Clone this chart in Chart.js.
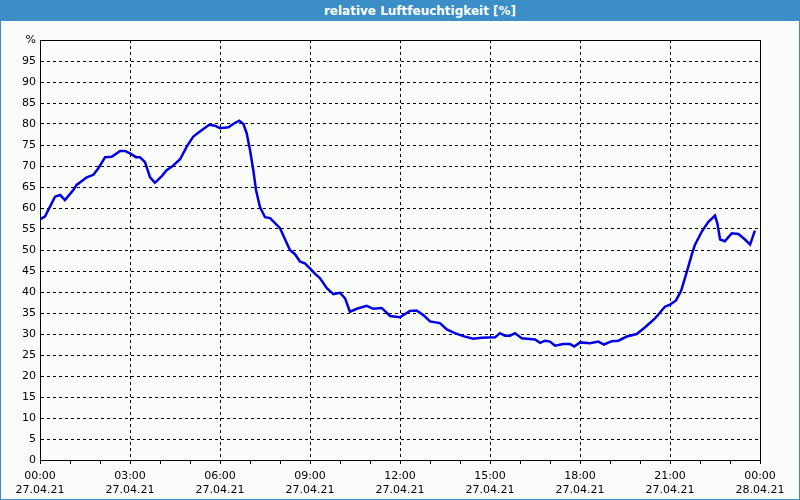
<!DOCTYPE html>
<html>
<head>
<meta charset="utf-8">
<script src="https://cdn.jsdelivr.net/npm/chart.js@4"></script>
<style>
  html, body { margin: 0; padding: 0; background: #fff; }
  #frame {
    position: relative; width: 798px; height: 498px;
    border: 1px solid #3c8fc6; background: #fbfdfb;
  }
  #title {
    position: absolute; left: 0; top: 0; width: 798px; height: 20px;
    background: #3c8fc6; color: #fff; font: bold 12px Tahoma, "DejaVu Sans", sans-serif;
    line-height: 20px; text-align: center; z-index: 2;
  }
  #title span { position: relative; left: 20px; }
  canvas { position: absolute; left: -1px; top: -1px; }
</style>
</head>
<body>
<div id="frame">
  <div id="title"><span>relative Luftfeuchtigkeit [%]</span></div>
  <canvas id="chart" width="800" height="500"></canvas>
</div>
<script>
  // Stunden ab 27.04.21 00:00
  const hours = [
    0.0, 0.17, 0.5, 0.67, 0.83, 1.11, 1.22, 1.56, 1.78, 1.94,
    2.17, 2.39, 2.67, 2.83, 3.0, 3.2, 3.33, 3.5, 3.67, 3.83,
    4.06, 4.22, 4.39, 4.67, 4.89, 5.11, 5.33, 5.64, 5.83, 6.0,
    6.28, 6.44, 6.64, 6.78, 6.89, 7.0, 7.11, 7.2, 7.33, 7.5,
    7.67, 8.0, 8.33, 8.5, 8.67, 8.83, 9.0, 9.17, 9.33, 9.56,
    9.78, 10.0, 10.17, 10.33, 10.56, 10.89, 11.11, 11.39, 11.67, 12.0,
    12.33, 12.55, 12.78, 13.0, 13.33, 13.56, 13.83, 14.11, 14.44, 14.72,
    15.17, 15.33, 15.5, 15.67, 15.83, 16.06, 16.5, 16.67, 16.83, 17.0,
    17.17, 17.44, 17.67, 17.81, 18.0, 18.33, 18.61, 18.8, 19.06, 19.28,
    19.56, 19.89, 20.17, 20.5, 20.83, 21.0, 21.2, 21.37, 21.56, 21.72,
    21.83, 22.06, 22.28, 22.5, 22.58, 22.67, 22.83, 23.06, 23.28, 23.5,
    23.67, 23.83
  ];
  const humidity = [
    57.3, 58.0, 62.7, 63.1, 61.9, 64.3, 65.5, 67.3, 67.9, 69.4,
    72.1, 72.2, 73.6, 73.6, 73.0, 72.1, 72.1, 70.9, 67.3, 66.0,
    67.6, 69.0, 69.8, 71.6, 74.6, 77.0, 78.2, 79.8, 79.6, 79.0,
    79.2, 80.0, 80.8, 80.0, 77.8, 73.8, 69.0, 64.3, 60.3, 57.8,
    57.6, 55.2, 50.0, 49.0, 47.2, 46.8, 45.6, 44.3, 43.3, 40.9,
    39.5, 39.8, 38.5, 35.3, 36.0, 36.7, 36.0, 36.2, 34.3, 34.0,
    35.5, 35.6, 34.5, 33.0, 32.6, 31.1, 30.2, 29.5, 28.9, 29.1,
    29.2, 30.2, 29.6, 29.6, 30.2, 29.0, 28.7, 27.9, 28.4, 28.2,
    27.2, 27.6, 27.6, 27.0, 28.0, 27.8, 28.2, 27.5, 28.3, 28.4,
    29.4, 30.0, 31.6, 33.7, 36.5, 37.0, 38.0, 40.3, 44.8, 48.8,
    51.2, 54.4, 56.7, 58.2, 56.3, 52.5, 52.1, 54.0, 53.8, 52.5,
    51.3, 54.6
  ];
  const timeLabels = ["00:00", "03:00", "06:00", "09:00", "12:00", "15:00", "18:00", "21:00", "00:00"];
  const dateLabels = ["27.04.21", "27.04.21", "27.04.21", "27.04.21", "27.04.21", "27.04.21", "27.04.21", "27.04.21", "28.04.21"];

  const tickFont = { family: 'Tahoma, "DejaVu Sans", sans-serif', size: 11 };

  // solider Rahmen um den Plotbereich
  const boxPlugin = {
    id: "box",
    afterDraw(chart) {
      const { ctx, chartArea: a } = chart;
      ctx.save();
      ctx.strokeStyle = "#000";
      ctx.lineWidth = 1;
      ctx.setLineDash([]);
      ctx.strokeRect(a.left + 0.5, a.top + 0.5, a.right - a.left, a.bottom - a.top);
      ctx.restore();
    }
  };

  new Chart(document.getElementById("chart"), {
    type: "line",
    data: {
      datasets: [{
        data: hours.map((h, i) => ({ x: h, y: humidity[i] })),
        borderColor: "#0000e6",
        borderWidth: 2.5,
        pointRadius: 0,
        tension: 0,
        fill: false
      }]
    },
    options: {
      responsive: false,
      animation: false,
      layout: { padding: { left: 0, top: 40, right: 40, bottom: 0 } },
      plugins: { legend: { display: false }, tooltip: { enabled: false } },
      scales: {
        x: {
          type: "linear",
          min: 0, max: 24,
          afterFit: (s) => { s.height = 40; },
          ticks: {
            stepSize: 1, autoSkip: false, maxRotation: 0, padding: 6,
            color: "#000", font: tickFont,
            callback: (v) => v % 3 === 0 ? [timeLabels[v / 3], dateLabels[v / 3]] : ""
          },
          grid: {
            color: (c) => c.tick && c.tick.value % 3 === 0 ? "#000" : "rgba(0,0,0,0)",
            tickColor: "#000", tickLength: 4, lineWidth: 1
          },
          border: { color: "#000", dash: [3, 3] }
        },
        y: {
          min: 0, max: 100,
          afterFit: (s) => { s.width = 40; },
          ticks: {
            stepSize: 5, padding: 4, color: "#000", font: tickFont,
            callback: (v) => v === 100 ? "%" : v
          },
          grid: { color: "#000", drawTicks: false, lineWidth: 1 },
          border: { color: "#000", dash: [3, 3] }
        }
      }
    },
    plugins: [boxPlugin]
  });
</script>
</body>
</html>
